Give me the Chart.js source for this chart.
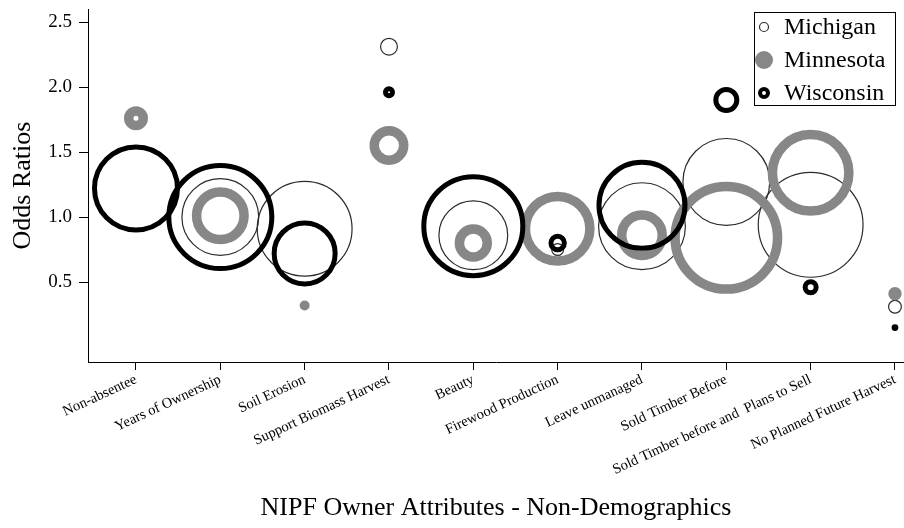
<!DOCTYPE html>
<html>
<head>
<meta charset="utf-8">
<title>Odds Ratios – NIPF Owner Attributes</title>
<script src="https://cdn.jsdelivr.net/npm/chart.js@4.4.1/dist/chart.umd.min.js"></script>
<style>
  html, body { margin: 0; padding: 0; background: #ffffff; }
  #wrap { width: 904px; height: 528px; }
</style>
</head>
<body>
<div id="wrap"><canvas id="chart" width="904" height="528"></canvas></div>
<script>
// Owner attributes along the x axis
const categories = [
  'Non-absentee',
  'Years of Ownership',
  'Soil Erosion',
  'Support Biomass Harvest',
  'Beauty',
  'Firewood Production',
  'Leave unmanaged',
  'Sold Timber Before',
  'Sold Timber before and  Plans to Sell',
  'No Planned Future Harvest'
];

// Odds ratios per state (null = not reported)
const michiganOdds  = [null, 1.00, 0.91, 2.31, 0.86, 0.75, 0.93, 1.27, 0.94, 0.31];
const minnesotaOdds = [1.76, 1.01, 0.32, 1.55, 0.80, 0.91, 0.86, 0.84, 1.34, 0.41];
const wisconsinOdds = [1.22, 1.00, 0.72, 1.96, 0.93, 0.80, 1.09, 1.90, 0.46, 0.15];

// Bubble sizes (outer radius of each circle)
const michiganSize  = [null, 39, 48, 9, 35, 6.5, 44, 44, 53, 7];
const minnesotaSize = [12, 28.5, 5, 19.5, 18.7, 37, 25, 56, 43, 6.7];
const wisconsinSize = [44, 54, 33, 6, 52, 9.2, 45.5, 13, 8, 3.4];

const yTickValues = [0.5, 1.0, 1.5, 2.0, 2.5];

const SERIF = "'Liberation Serif', 'Times New Roman', serif";
Chart.defaults.font.family = SERIF;
Chart.defaults.color = '#000';

function toPoints(odds, sizes) {
  return odds
    .map((v, i) => (v == null ? null : { x: i, y: v, s: sizes[i] }))
    .filter(Boolean);
}

// A ring whose outer edge sits at the bubble size; tiny bubbles become solid dots
function ringDataset(label, odds, sizes, color, lineWidth, order) {
  const sizeOf = ctx => (ctx.raw && ctx.raw.s != null ? ctx.raw.s : lineWidth);
  return {
    label,
    data: toPoints(odds, sizes),
    order,
    clip: false,
    borderColor: color,
    backgroundColor: 'rgba(0,0,0,0)',
    borderWidth: ctx => Math.min(lineWidth, sizeOf(ctx)),
    radius: ctx => {
      const s = sizeOf(ctx);
      return s - Math.min(lineWidth, s) / 2;
    },
    hoverRadius: 0,
    hitRadius: 0
  };
}

const GRAY = '#878787';

const datasets = [
  ringDataset('Michigan',  michiganOdds,  michiganSize,  '#2a2a2a', 1.2, 3),
  ringDataset('Minnesota', minnesotaOdds, minnesotaSize, GRAY,      9.5, 2),
  ringDataset('Wisconsin', wisconsinOdds, wisconsinSize, '#000000', 5,   1)
];

// Boxed legend in the upper-right corner
const boxLegend = {
  id: 'boxLegend',
  afterDraw(chart) {
    const c = chart.ctx;
    const left = 754.5, top = 12.5, w = 141, h = 93;
    const rowY = [27, 60, 93];
    const markerX = 764, textX = 784;
    c.save();
    c.strokeStyle = '#000';
    c.lineWidth = 1;
    c.strokeRect(left, top, w, h);

    // Michigan: thin open circle
    c.beginPath();
    c.arc(markerX, rowY[0], 4.5, 0, Math.PI * 2);
    c.strokeStyle = '#2a2a2a';
    c.lineWidth = 1.2;
    c.stroke();

    // Minnesota: solid gray disc
    c.beginPath();
    c.arc(markerX, rowY[1], 9, 0, Math.PI * 2);
    c.fillStyle = GRAY;
    c.fill();

    // Wisconsin: heavy black ring
    c.beginPath();
    c.arc(markerX, rowY[2], 4, 0, Math.PI * 2);
    c.strokeStyle = '#000';
    c.lineWidth = 4;
    c.stroke();

    c.fillStyle = '#000';
    c.font = '24px ' + SERIF;
    c.textAlign = 'left';
    c.textBaseline = 'middle';
    chart.data.datasets.forEach((ds, i) => c.fillText(ds.label, textX, rowY[i] + 1));
    c.restore();
  }
};

new Chart(document.getElementById('chart'), {
  type: 'bubble',
  data: { datasets },
  plugins: [boxLegend],
  options: {
    responsive: false,
    animation: false,
    events: [],
    devicePixelRatio: 1,
    layout: { autoPadding: false, padding: { top: 9, right: 0, bottom: 0, left: 0 } },
    plugins: {
      legend: { display: false },
      tooltip: { enabled: false }
    },
    scales: {
      x: {
        type: 'linear',
        position: 'bottom',
        min: -0.569,
        max: 9.107,
        afterBuildTicks: scale => { scale.ticks = categories.map((_, i) => ({ value: i })); },
        afterFit: scale => { scale.height = 166; scale.paddingLeft = 0; scale.paddingRight = 0; },
        border: { display: true, color: '#000', width: 1 },
        grid: { display: true, drawOnChartArea: false, drawTicks: true, tickLength: 8, color: '#000' },
        ticks: {
          autoSkip: false,
          minRotation: 25,
          maxRotation: 25,
          padding: 1,
          color: '#000',
          font: { size: 14.5, family: SERIF },
          callback: value => categories[value]
        },
        title: {
          display: true,
          text: 'NIPF Owner Attributes - Non-Demographics',
          color: '#000',
          font: { size: 26, family: SERIF },
          padding: { top: 0, bottom: 4 }
        }
      },
      y: {
        type: 'linear',
        min: -0.115,
        max: 2.6,
        afterBuildTicks: scale => { scale.ticks = yTickValues.map(v => ({ value: v })); },
        afterFit: scale => { scale.width = 88; scale.paddingTop = 0; scale.paddingBottom = 0; },
        border: { display: true, color: '#000', width: 1 },
        grid: { display: true, drawOnChartArea: false, drawTicks: true, tickLength: 9, color: '#000' },
        ticks: {
          padding: 7,
          color: '#000',
          font: { size: 19, family: SERIF },
          callback: value => Number(value).toFixed(1)
        },
        title: {
          display: true,
          text: 'Odds Ratios',
          color: '#000',
          font: { size: 26, family: SERIF },
          padding: { top: 8, bottom: 0 }
        }
      }
    }
  }
});
</script>
</body>
</html>
